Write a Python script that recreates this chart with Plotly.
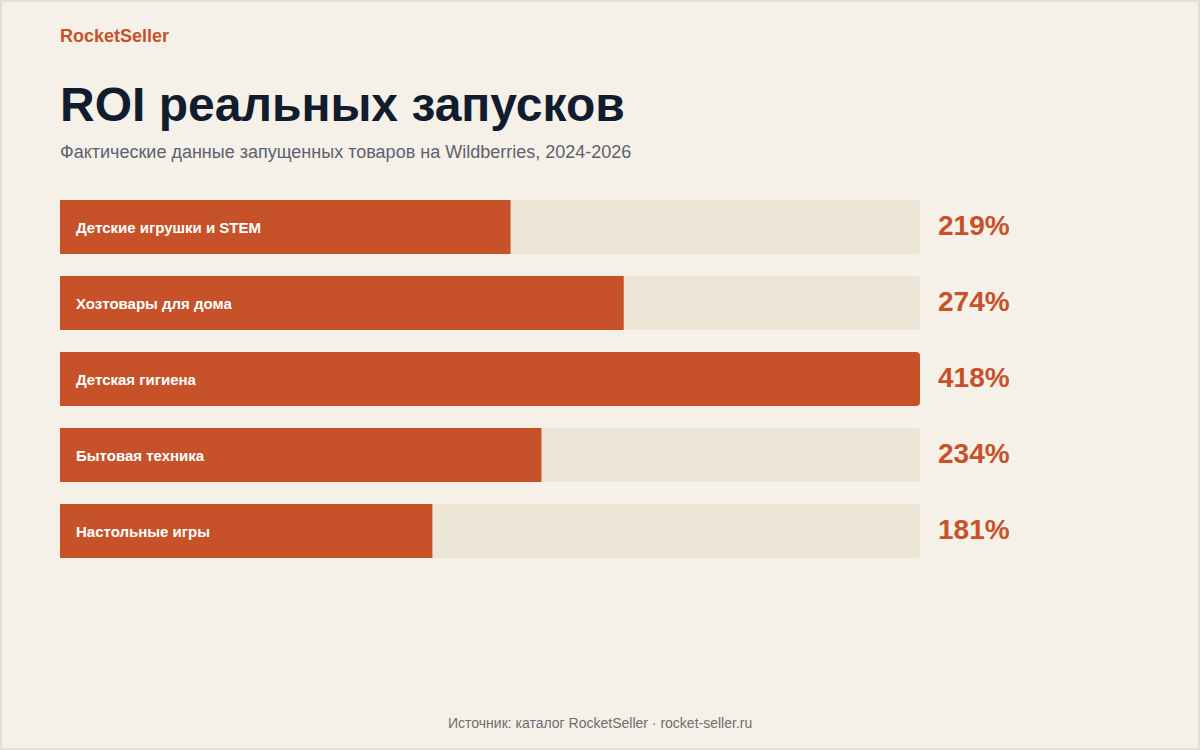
import plotly.graph_objects as go

categories = ["Детские игрушки и STEM", "Хозтовары для дома", "Детская гигиена",
              "Бытовая техника", "Настольные игры"]
roi_values = [219, 274, 418, 234, 181]
value_labels = ["219%", "274%", "418%", "234%", "181%"]

BG = "#f5f0e8"
TRACK = "#ede5d5"
ACCENT = "#c7522a"
DARK = "#111c2e"
GRAY = "#5b6270"
FONT = "Liberation Sans, Arial, sans-serif"

W, H = 1200, 750
max_v = max(roi_values)
ypos = list(range(len(categories)))

fig = go.Figure()
fig.add_trace(go.Bar(
    x=[max_v] * len(categories), y=ypos, orientation="h",
    marker=dict(color=TRACK, cornerradius=4, line=dict(width=0)),
    width=54 / 76, hoverinfo="skip", showlegend=False,
))
fig.add_trace(go.Bar(
    x=roi_values, y=ypos, orientation="h",
    marker=dict(color=ACCENT, cornerradius=4, line=dict(width=0)),
    width=54 / 76, showlegend=False,
    hovertemplate="%{customdata}: %{x}%<extra></extra>", customdata=categories,
))

annotations = []
for yi, cat, lab in zip(ypos, categories, value_labels):
    annotations.append(dict(
        x=0, y=yi, xref="x", yref="y", text=f"<b>{cat}</b>", showarrow=False,
        xanchor="left", yanchor="middle", xshift=14,
        font=dict(family=FONT, size=15, color="#ffffff"),
    ))
    annotations.append(dict(
        x=max_v, y=yi, xref="x", yref="y", text=f"<b>{lab}</b>", showarrow=False,
        xanchor="left", yanchor="middle", xshift=16, yshift=1.5,
        font=dict(family=FONT, size=28, color=ACCENT),
    ))

def top_text(text, ypix, size, color, bold=False, x=60 / W, xanchor="left"):
    return dict(
        x=x, y=1 - ypix / H, xref="paper", yref="paper",
        text=f"<b>{text}</b>" if bold else text, showarrow=False,
        xanchor=xanchor, yanchor="middle",
        font=dict(family=FONT, size=size, color=color),
    )

annotations += [
    top_text("RocketSeller", 36, 18, ACCENT, bold=True, x=58 / W),
    top_text("ROI реальных запусков", 104, 48, DARK, bold=True, x=58 / W),
    top_text("Фактические данные запущенных товаров на Wildberries, 2024-2026", 152, 18, GRAY, x=58 / W),
    top_text("Источник: каталог RocketSeller · rocket-seller.ru", 723, 14, "#6e6e6e",
             x=0.5, xanchor="center"),
]

fig.update_layout(
    width=W, height=H, margin=dict(l=0, r=0, t=0, b=0),
    paper_bgcolor=BG, plot_bgcolor=BG, barmode="overlay",
    xaxis=dict(domain=[60 / W, 920 / W], range=[0, max_v], visible=False, fixedrange=True),
    yaxis=dict(domain=[(H - 569) / H, (H - 189) / H], range=[4.5, -0.5],
               visible=False, fixedrange=True),
    annotations=annotations,
    shapes=[dict(type="rect", xref="paper", yref="paper", x0=0, x1=1, y0=0, y1=1,
                 line=dict(color="#e3ded6", width=4), layer="above")],
    font=dict(family=FONT),
)

fig.write_html("out.html", config={"displayModeBar": False})
